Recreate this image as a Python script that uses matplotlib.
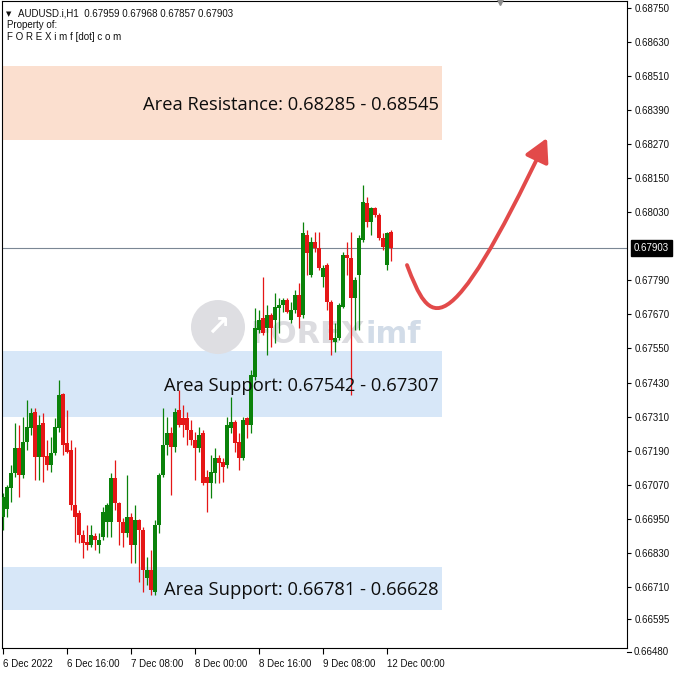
import numpy as np
import matplotlib
matplotlib.use("Agg")
import matplotlib.pyplot as plt
from matplotlib.patches import Rectangle, FancyArrowPatch, Ellipse
from matplotlib.path import Path
import matplotlib.transforms as mtransforms

# ---------------- data ----------------
symbol_header = "AUDUSD.i,H1  0.67959 0.67968 0.67857 0.67903"
opens = [0.66957, 0.66983, 0.67057, 0.67110, 0.67198, 0.67104, 0.67221, 0.67268, 0.67327, 0.67168,
         0.67286, 0.67171, 0.67139, 0.67180, 0.67268, 0.67389, 0.67216, 0.67192, 0.66998, 0.66969,
         0.66892, 0.66869, 0.66857, 0.66890, 0.66857, 0.66886, 0.66939, 0.66939, 0.67092, 0.67004,
         0.66939, 0.66898, 0.66957, 0.66857, 0.66945, 0.66910, 0.66740, 0.66769, 0.66692, 0.66928,
         0.67104, 0.67210, 0.67251, 0.67204, 0.67333, 0.67304, 0.67304, 0.67262, 0.67227, 0.67198,
         0.67251, 0.67098, 0.67075, 0.67110, 0.67163, 0.67151, 0.67139, 0.67268, 0.67292, 0.67221,
         0.67163, 0.67304, 0.67280, 0.67450, 0.67615, 0.67656, 0.67621, 0.67668, 0.67650, 0.67691,
         0.67703, 0.67721, 0.67650, 0.67685, 0.67738, 0.67668, 0.67950, 0.67809, 0.67926, 0.67903,
         0.67803, 0.67844, 0.67715, 0.67574, 0.67586, 0.67697, 0.67879, 0.67868, 0.67727, 0.67809,
         0.67932, 0.68062, 0.67997, 0.68044, 0.68020, 0.67938, 0.67844, 0.67959]
highs = [0.67039, 0.67069, 0.67139, 0.67286, 0.67280, 0.67309, 0.67368, 0.67339, 0.67339, 0.67315,
         0.67321, 0.67227, 0.67239, 0.67304, 0.67439, 0.67392, 0.67333, 0.67227, 0.67204, 0.66980,
         0.66910, 0.66928, 0.66928, 0.66898, 0.66898, 0.66992, 0.67004, 0.67110, 0.67157, 0.67008,
         0.66951, 0.67104, 0.66969, 0.66998, 0.66948, 0.66922, 0.66816, 0.66839, 0.66945, 0.67110,
         0.67339, 0.67309, 0.67274, 0.67339, 0.67403, 0.67351, 0.67327, 0.67298, 0.67256, 0.67274,
         0.67262, 0.67121, 0.67174, 0.67198, 0.67174, 0.67163, 0.67309, 0.67380, 0.67298, 0.67251,
         0.67309, 0.67309, 0.67474, 0.67691, 0.67685, 0.67803, 0.67703, 0.67674, 0.67744, 0.67727,
         0.67727, 0.67727, 0.67715, 0.67756, 0.67780, 0.67997, 0.67967, 0.67944, 0.67962, 0.67962,
         0.67844, 0.67850, 0.67721, 0.67639, 0.67709, 0.67891, 0.67926, 0.67962, 0.67803, 0.67950,
         0.68126, 0.68085, 0.68050, 0.68050, 0.68026, 0.67956, 0.67962, 0.67968]
lows = [0.66910, 0.66957, 0.67010, 0.67098, 0.67027, 0.67092, 0.67192, 0.67245, 0.67086, 0.67086,
        0.67080, 0.67121, 0.67116, 0.67174, 0.67256, 0.67174, 0.67180, 0.66980, 0.66869, 0.66863,
        0.66810, 0.66839, 0.66851, 0.66839, 0.66828, 0.66875, 0.66886, 0.66886, 0.66980, 0.66857,
        0.66851, 0.66886, 0.66793, 0.66793, 0.66728, 0.66692, 0.66716, 0.66681, 0.66681, 0.66898,
        0.67098, 0.67174, 0.67033, 0.67186, 0.67274, 0.67239, 0.67210, 0.67210, 0.67086, 0.67186,
        0.67069, 0.66973, 0.67023, 0.67075, 0.67075, 0.67080, 0.67127, 0.67251, 0.67186, 0.67121,
        0.67157, 0.67233, 0.67251, 0.67439, 0.67603, 0.67597, 0.67527, 0.67556, 0.67568, 0.67603,
        0.67680, 0.67674, 0.67639, 0.67674, 0.67621, 0.67656, 0.67809, 0.67803, 0.67891, 0.67826,
        0.67768, 0.67685, 0.67527, 0.67539, 0.67580, 0.67691, 0.67809, 0.67386, 0.67615, 0.67615,
        0.67926, 0.67979, 0.67950, 0.68014, 0.67932, 0.67897, 0.67826, 0.67857]
closes = [0.67027, 0.67060, 0.67110, 0.67198, 0.67104, 0.67221, 0.67274, 0.67321, 0.67168, 0.67280,
          0.67168, 0.67139, 0.67180, 0.67274, 0.67386, 0.67210, 0.67186, 0.66998, 0.66957, 0.66892,
          0.66863, 0.66857, 0.66892, 0.66875, 0.66875, 0.66974, 0.66998, 0.67092, 0.67004, 0.66939,
          0.66898, 0.66957, 0.66857, 0.66945, 0.66910, 0.66769, 0.66769, 0.66698, 0.66928, 0.67104,
          0.67210, 0.67251, 0.67204, 0.67327, 0.67280, 0.67280, 0.67262, 0.67227, 0.67198, 0.67245,
          0.67075, 0.67075, 0.67116, 0.67163, 0.67145, 0.67133, 0.67280, 0.67292, 0.67216, 0.67163,
          0.67298, 0.67280, 0.67456, 0.67621, 0.67650, 0.67603, 0.67668, 0.67621, 0.67697, 0.67703,
          0.67721, 0.67680, 0.67685, 0.67738, 0.67662, 0.67956, 0.67885, 0.67926, 0.67903, 0.67832,
          0.67832, 0.67715, 0.67580, 0.67586, 0.67703, 0.67879, 0.67868, 0.67727, 0.67791, 0.67938,
          0.68067, 0.67997, 0.68044, 0.68020, 0.67938, 0.67909, 0.67956, 0.67903]

x_tick_bars = [0, 16, 32, 48, 64, 80, 96]
x_tick_labels = ["6 Dec 2022", "6 Dec 16:00", "7 Dec 08:00", "8 Dec 00:00",
                 "8 Dec 16:00", "9 Dec 08:00", "12 Dec 00:00"]
y_ticks = [0.68750, 0.68630, 0.68510, 0.68390, 0.68270, 0.68150, 0.68030,
           0.67790, 0.67670, 0.67550, 0.67430, 0.67310, 0.67190, 0.67070,
           0.66950, 0.66830, 0.66710, 0.66595]
y_tick_below = 0.66480
bid_price = 0.67903

resistance_zone = (0.68285, 0.68545)
support_zone_1 = (0.67307, 0.67542)
support_zone_2 = (0.66628, 0.66781)
zone_labels = ["Area Resistance: 0.68285 - 0.68545",
               "Area Support: 0.67542 - 0.67307",
               "Area Support: 0.66781 - 0.66628"]

# ---------------- style ----------------
W = H = 676
DPI = 100
GREEN = "#0a820a"
RED = "#e51616"
RES_COL = "#fbdfcf"
SUP_COL = "#d7e7f8"
TICK_FONT = ["Liberation Sans", "DejaVu Sans"]

fig = plt.figure(figsize=(W / DPI, H / DPI), dpi=DPI)
fig.patch.set_facecolor("white")
ax_l, ax_r, ax_t, ax_b = 2, 627, 1, 648
ax = fig.add_axes([ax_l / W, 1 - ax_b / H, (ax_r - ax_l) / W, (ax_b - ax_t) / H])
ax.set_facecolor("white")

x_lo, x_hi = -0.25, 156.0
y_top, y_bot = 0.68775, 0.66494
ax.set_xlim(x_lo, x_hi)
ax.set_ylim(y_bot, y_top)

# zones
zone_x_end = 109.75
for (lo, hi), col in [(resistance_zone, RES_COL), (support_zone_1, SUP_COL), (support_zone_2, SUP_COL)]:
    ax.add_patch(Rectangle((x_lo, lo), zone_x_end - x_lo, hi - lo, facecolor=col,
                           edgecolor="none", zorder=1))

# watermark
ax.add_patch(Ellipse((0.3456, 0.4961), 54 / 625, 54 / 647, transform=ax.transAxes,
                     facecolor="#dedee2", edgecolor="none", zorder=1.3))
ax.text(0.3456, 0.4961, "\u2197", transform=ax.transAxes, ha="center", va="center",
        fontsize=20, fontweight="bold", color="white", zorder=1.35, family="DejaVu Sans")
ax.text((250 - 2) / 625, (648 - 343) / 647, "FOREX", transform=ax.transAxes, ha="left",
        va="baseline", fontsize=22, fontweight="bold", color="#dcdce0", zorder=1.3,
        family="DejaVu Sans")
ax.text((366 - 2) / 625, (648 - 343) / 647, "imf", transform=ax.transAxes, ha="left",
        va="baseline", fontsize=22, fontweight="bold", color="#d2dce8", zorder=1.3,
        family="DejaVu Sans")

# bid line
ax.axhline(bid_price, color="#7b8794", lw=0.8, zorder=1.5)

# candles
idx = np.arange(len(opens))
o = np.array(opens); h = np.array(highs); l = np.array(lows); c = np.array(closes)
up = c >= o
cols = np.where(up, GREEN, RED)
ax.vlines(idx, l, h, colors=cols, lw=0.9, zorder=3)
body_lo = np.minimum(o, c)
body_h = np.maximum(np.abs(c - o), 0.00004)
ax.bar(idx, body_h, bottom=body_lo, width=0.8, color=cols, edgecolor="none", zorder=3.1)

# zone labels
label_x = 109.0
for (lo, hi), txt in zip([resistance_zone, support_zone_1, support_zone_2], zone_labels):
    ax.annotate(txt, xy=(label_x, (lo + hi) / 2), xytext=(0, -6.5), textcoords="offset pixels",
                ha="right", va="baseline", fontsize=13.2, color="#0d0d0d",
                family=["Open Sans", "DejaVu Sans"], zorder=4)

# curved arrow
arrow_pts = [(101.0, 0.67844), (106.75, 0.67633), (110.5, 0.67537), (136.0, 0.68292)]
path = Path(arrow_pts, [Path.MOVETO, Path.CURVE4, Path.CURVE4, Path.CURVE4])
arr = FancyArrowPatch(path=path, arrowstyle="-|>,head_length=0.7,head_width=0.38",
                      mutation_scale=20, color="#e24a4a", lw=2.8, zorder=5,
                      capstyle="round", joinstyle="round")
ax.add_patch(arr)

# axes / ticks
for s in ax.spines.values():
    s.set_color("black"); s.set_linewidth(0.8)
ax.yaxis.tick_right()
ax.set_yticks(y_ticks)
ax.set_yticklabels([f"{v:.5f}" for v in y_ticks])
ax.set_xticks(x_tick_bars)
ax.set_xticklabels(x_tick_labels)
ax.tick_params(axis="y", direction="out", length=3, width=0.8, pad=2.5, labelsize=7)
ax.tick_params(axis="x", direction="out", length=4, width=0.8, pad=4, labelsize=7)
for lab in ax.get_yticklabels() + ax.get_xticklabels():
    lab.set_family(TICK_FONT)
    lab.set_color("#111111")
for lab in ax.get_xticklabels():
    lab.set_ha("left")

trans = mtransforms.blended_transform_factory(ax.transAxes, ax.transData)
ax.plot([1.0, 1.0 + 4 / 625], [y_tick_below, y_tick_below], transform=trans, color="black",
        lw=0.8, clip_on=False)
ax.annotate(f"{y_tick_below:.5f}", xy=(1.0, y_tick_below), xycoords=trans, xytext=(7, 0),
            textcoords="offset pixels", ha="left", va="center", fontsize=7,
            family=TICK_FONT, color="#111111", annotation_clip=False)
# bid label box
ax.annotate(f"{bid_price:.5f}", xy=(1.0, bid_price), xycoords=trans, xytext=(7, 0),
            textcoords="offset pixels", ha="left", va="center", fontsize=7,
            family=TICK_FONT, color="white", annotation_clip=False,
            bbox=dict(boxstyle="square,pad=0.3", facecolor="black", edgecolor="black"))

# small markers
ax.plot([(500 - 3) / 4], [y_top], marker="v", color="#8c8c8c", markersize=6,
        clip_on=False, zorder=6)

# header texts
fig.text(6 / W, 1 - 16 / H, "\u25bc", fontsize=5, family="DejaVu Sans", color="#111111",
         ha="left", va="baseline")
fig.text(18 / W, 1 - 16 / H, symbol_header, fontsize=7, family=TICK_FONT, color="#111111",
         ha="left", va="baseline")
fig.text(7 / W, 1 - 28 / H, "Property of:", fontsize=7, family=TICK_FONT, color="#111111",
         ha="left", va="baseline")
fig.text(7 / W, 1 - 40 / H, "F O R E X i m f [dot] c o m", fontsize=7, family=TICK_FONT,
         color="#111111", ha="left", va="baseline")

fig.savefig("out.png", dpi=DPI, facecolor="white")
